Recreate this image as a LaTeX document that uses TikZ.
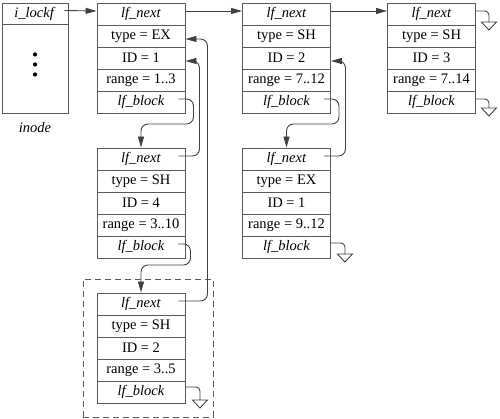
\documentclass[tikz,border=0pt]{standalone}
\usepackage{fontspec}
\setmainfont{Liberation Serif}
\usetikzlibrary{calc,arrows.meta}
\newcommand{\lkrecord}[8]{%
  \node[rowbox] (#1r1) at (#2,#3+11) {#4};
  \node[rowbox] (#1r2) at (#2,#3+33) {#5};
  \node[rowbox] (#1r3) at (#2,#3+55) {#6};
  \node[rowbox] (#1r4) at (#2,#3+77) {#7};
  \node[rowbox] (#1r5) at (#2,#3+99) {#8};
}
\newcommand{\lkground}[1]{%
  \draw[conn] ($(#1)+(-7.5,0)$) -- ($(#1)+(7.5,0)$) -- ($(#1)+(0,8)$) -- cycle;
}
\begin{document}
\begin{tikzpicture}[x=1pt,y=-1pt,
  rowbox/.style={draw=black!65, line width=0.9pt, minimum width=88pt, minimum height=22pt, inner sep=0pt, font=\fontsize{14.5}{16}\selectfont},
  conn/.style={draw=black!75, line width=0.9pt},
  arr/.style={conn, -{Triangle[length=11pt,width=6pt]}, rounded corners=7pt},
  gl/.style={conn, rounded corners=4pt}]
\useasboundingbox (0,0) rectangle (500,419);
% inode
\node[draw=black!65, line width=0.9pt, minimum width=66pt, minimum height=110pt, inner sep=0pt] (inode) at (35,58) {};
\node[rowbox, minimum width=66pt, minimum height=21pt] (ilockf) at (35,13.5) {\textit{i\_lockf}};
\fill (35,54.5) circle (2.1pt);
\fill (35,64.5) circle (2.1pt);
\fill (35,74.5) circle (2.1pt);
\node[font=\fontsize{14.5}{16}\selectfont\itshape] (inodelbl) at (35,128) {inode};
% records
\lkrecord{a1}{141}{3}{\textit{lf\_next}}{type = EX}{ID = 1}{range = 1..3}{\textit{lf\_block}}
\lkrecord{a2}{286.5}{3}{\textit{lf\_next}}{type = SH}{ID = 2}{range = 7..12}{\textit{lf\_block}}
\lkrecord{a3}{431.5}{3}{\textit{lf\_next}}{type = SH}{ID = 3}{range = 7..14}{\textit{lf\_block}}
\lkrecord{b1}{141}{148}{\textit{lf\_next}}{type = SH}{ID = 4}{range = 3..10}{\textit{lf\_block}}
\lkrecord{b2}{286.5}{148}{\textit{lf\_next}}{type = EX}{ID = 1}{range = 9..12}{\textit{lf\_block}}
\lkrecord{c1}{141}{293}{\textit{lf\_next}}{type = SH}{ID = 2}{range = 3..5}{\textit{lf\_block}}
% dashed frame
\node[draw=black!65, line width=0.9pt, dash pattern=on 6pt off 4pt, minimum width=130pt, minimum height=138pt, inner sep=0pt] (frame) at (148,348) {};
% horizontal lf_next chain
\draw[arr] ([xshift=-4pt,yshift=3pt]ilockf.east) -- ([yshift=3pt]a1r1.west);
\draw[arr] ([yshift=3pt]a1r1.east) -- ([yshift=3pt]a2r1.west);
\draw[arr] ([yshift=3pt]a2r1.east) -- ([yshift=3pt]a3r1.west);
% lf_block down links
\draw[arr] ([xshift=-7pt,yshift=3pt]a1r5.east) -| ($(a1r5.east)+(8,22)$) -| (b1r1.north);
\draw[arr] ([xshift=-7pt,yshift=3pt]a2r5.east) -| ($(a2r5.east)+(8,22)$) -| (b2r1.north);
\draw[arr] ([xshift=-7pt,yshift=3pt]b1r5.east) -| ($(b1r5.east)+(5,18)$) -| (c1r1.north);
% lf_next back links
\draw[arr] ([xshift=-7pt,yshift=3pt]b1r1.east) -| ($(a1r3.east)+(14,3)$) -- ([yshift=-3pt]a1r3.east);
\draw[arr] ([xshift=-7pt,yshift=3pt]c1r1.east) -| ($(a1r2.east)+(22,3)$) -- ([yshift=-3pt]a1r2.east);
\draw[arr] ([xshift=-7pt,yshift=3pt]b2r1.east) -| ($(a2r3.east)+(14.5,3)$) -- ([yshift=-3pt]a2r3.east);
% grounds
\coordinate (g1) at ($(a3r1.east)+(13,8)$);
\coordinate (g2) at ($(a3r5.east)+(13,6)$);
\coordinate (g3) at ($(b2r5.east)+(14,7)$);
\coordinate (g4) at ($(c1r5.east)+(14.5,8)$);
\draw[gl] ([yshift=3pt]a3r1.east) -| (g1);
\draw[gl] ([yshift=3pt]a3r5.east) -| (g2);
\draw[gl] ([yshift=4pt]b2r5.east) -| (g3);
\draw[gl] ([yshift=5pt]c1r5.east) -| (g4);
\lkground{g1}
\lkground{g2}
\lkground{g3}
\lkground{g4}
\end{tikzpicture}
\end{document}
